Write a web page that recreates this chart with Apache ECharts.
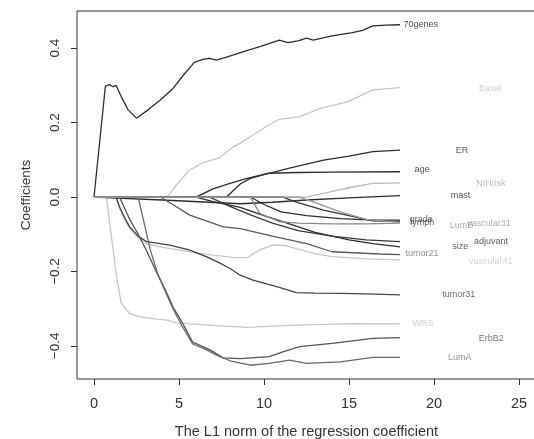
<!DOCTYPE html>
<html>
<head>
<meta charset="utf-8">
<script src="https://cdn.jsdelivr.net/npm/echarts@6/dist/echarts.min.js"></script>
<style>html,body{margin:0;padding:0;background:#fff;}#c{width:534px;height:439px;}</style>
</head>
<body>
<div id="c"></div>
<script>
// ---- data: coefficient paths ([L1 norm, coefficient]) ----
const p70genes = [[0,0],[0.67,0.298],[0.9,0.302],[1.1,0.297],[1.3,0.3],[1.6,0.27],[2.0,0.235],[2.5,0.212],[3.2,0.235],[3.9,0.261],[4.65,0.292],[5.3,0.33],[5.9,0.362],[6.4,0.37],[6.8,0.373],[7.2,0.368],[7.8,0.376],[8.8,0.391],[9.8,0.405],[10.9,0.422],[11.4,0.415],[12.0,0.42],[12.5,0.427],[12.9,0.422],[14.0,0.433],[15.2,0.442],[15.8,0.448],[16.4,0.46],[17.2,0.462],[18,0.463]];
const pBasal = [[0,0],[4.3,0],[4.9,0.035],[5.6,0.072],[6.4,0.092],[7.4,0.106],[8.2,0.135],[8.6,0.145],[9.4,0.168],[10.1,0.189],[10.9,0.209],[12.1,0.216],[13.3,0.238],[14.9,0.256],[16.4,0.288],[18,0.294]];
const pER = [[0,0],[7.8,0],[8.6,0.035],[9.2,0.05],[10,0.06],[11.5,0.078],[13.5,0.099],[15,0.11],[16.4,0.122],[18,0.126]];
const pAge = [[0,0],[6.0,0],[7.0,0.022],[8.0,0.037],[9.0,0.05],[10.3,0.064],[12,0.066],[14,0.067],[18,0.068]];
const pNIHrisk = [[0,0],[12.5,0],[13.5,0.01],[15,0.025],[16.4,0.037],[18,0.038]];
const pMast = [[0,0],[4,-0.008],[8.6,-0.018],[10.5,-0.014],[12.5,-0.008],[15,-0.002],[18,0.004]];
const pGrade = [[0,0],[9.2,0],[10,-0.02],[11,-0.04],[12.5,-0.05],[14.5,-0.058],[16.4,-0.062],[18,-0.062]];
const pLymph = [[0,0],[11.1,0],[12,-0.015],[13.5,-0.035],[15,-0.05],[16.4,-0.064],[18,-0.066]];
const pLumB = [[0,0],[9.2,0],[9.75,-0.044],[10.9,-0.066],[12,-0.07],[14,-0.072],[16,-0.072],[18,-0.07]];
const pVascular31 = [[0,0],[12.1,0],[13,-0.015],[14.5,-0.04],[16,-0.06],[18,-0.068]];
const pSize = [[0,0],[6.0,0],[7,-0.012],[8.6,-0.028],[10,-0.05],[11.1,-0.066],[13,-0.095],[15,-0.115],[16.4,-0.125],[18,-0.134]];
const pAdjuvant = [[0,0],[6.8,0],[8,-0.025],[9.2,-0.048],[10.5,-0.07],[12,-0.09],[14,-0.105],[16,-0.115],[18,-0.12]];
const pTumor21 = [[0,0],[3.9,0],[4.85,-0.026],[5.6,-0.048],[7.6,-0.08],[8.6,-0.085],[10.5,-0.105],[12.5,-0.125],[14,-0.147],[16.8,-0.153],[18,-0.155]];
const pVascular41 = [[0,0],[1.3,0],[1.5,-0.03],[1.8,-0.06],[2.1,-0.085],[2.6,-0.11],[3.1,-0.125],[4,-0.135],[5,-0.142],[6,-0.15],[7,-0.156],[8.2,-0.162],[9.0,-0.163],[9.75,-0.142],[10.5,-0.129],[11.2,-0.13],[12,-0.14],[13,-0.152],[14,-0.16],[16,-0.166],[18,-0.169]];
const pTumor31 = [[0,0],[1.3,0],[1.5,-0.026],[1.8,-0.055],[2.1,-0.08],[2.6,-0.105],[3.1,-0.12],[3.7,-0.124],[4.45,-0.129],[5.6,-0.142],[6.6,-0.16],[7.3,-0.175],[8,-0.192],[8.6,-0.21],[9.35,-0.223],[10.1,-0.233],[10.9,-0.243],[11.9,-0.257],[13,-0.258],[14.5,-0.259],[16,-0.26],[18,-0.263]];
const pWRS = [[0,0],[0.73,0],[0.95,-0.08],[1.15,-0.15],[1.35,-0.22],[1.6,-0.285],[2.1,-0.313],[2.7,-0.322],[3.5,-0.327],[4.3,-0.331],[4.85,-0.338],[5.6,-0.341],[7,-0.345],[9,-0.35],[10.5,-0.347],[12,-0.344],[13.5,-0.342],[15,-0.34],[18,-0.341]];
const pErbB2 = [[0,0],[1.5,0],[1.7,-0.02],[2.1,-0.06],[2.6,-0.1],[3.1,-0.145],[3.6,-0.195],[4.2,-0.25],[4.7,-0.3],[5.2,-0.338],[5.8,-0.39],[6.8,-0.41],[7.6,-0.432],[8.6,-0.434],[10.3,-0.429],[11.2,-0.415],[12.1,-0.402],[14,-0.393],[16.4,-0.38],[18,-0.378]];
const pLumA = [[0,0],[2.6,0],[2.9,-0.06],[3.3,-0.14],[3.7,-0.2],[4.2,-0.255],[4.7,-0.305],[5.1,-0.34],[5.8,-0.395],[6.6,-0.41],[7.2,-0.425],[8,-0.44],[9.2,-0.452],[10.3,-0.447],[11.5,-0.438],[12.5,-0.447],[14.5,-0.443],[16.4,-0.431],[18,-0.431]];

// ---- label texts and their anchor positions (data coordinates) ----
const labelNames = ['70genes','Basal','ER','age','NIHrisk','mast','grade','lymph','LumB','vascular31','adjuvant','size','tumor21','vascular41','tumor31','WRS','ErbB2','LumA'];
const labelX = [18.2,22.65,21.28,18.86,22.49,20.98,18.57,18.6,20.92,21.95,22.35,21.08,18.33,22.06,20.49,18.73,22.63,20.82];
const labelY = [0.463,0.293,0.124,0.073,0.037,0.003,-0.061,-0.068,-0.077,-0.071,-0.12,-0.134,-0.153,-0.174,-0.263,-0.341,-0.38,-0.431];

// ---- tick values ----
const xTicks = [0,5,10,15,20,25];
const yTicks = [-0.4,-0.2,0.0,0.2,0.4];

// styles
const GRAY_DARK = '#2e2e2e', GRAY_MID = '#5a5a5a', GRAY_MED = '#8a8a8a', GRAY_LIGHT = '#c6c6c6';
const paths = [
  [pWRS, GRAY_LIGHT], [pBasal, GRAY_LIGHT], [pNIHrisk, '#b8b8b8'], [pVascular41, GRAY_LIGHT],
  [p70genes, GRAY_DARK], [pER, GRAY_DARK], [pAge, GRAY_DARK], [pMast, GRAY_DARK],
  [pGrade, GRAY_DARK], [pLymph, '#3a3a3a'], [pSize, GRAY_DARK], [pAdjuvant, '#3a3a3a'],
  [pTumor21, GRAY_MID], [pTumor31, '#444'], [pErbB2, '#555'], [pLumA, '#6a6a6a'],
  [pLumB, GRAY_MED], [pVascular31, '#999']
];
const labelColors = ['#222','#c4c4c4','#333','#222','#aaa','#222','#333','#333','#999','#999','#333','#333','#777','#c8c8c8','#444','#c4c4c4','#555','#777'];

const FONT = 'Liberation Sans, Arial, Helvetica, sans-serif';
const series = paths.map(([d, c], i) => ({
  type: 'line', data: d, showSymbol: false, symbol: 'none', z: 2 + i * 0.01,
  lineStyle: { color: c, width: 1.3 }, silent: true, animation: false
}));
series.push({
  type: 'scatter', symbolSize: 0, silent: true, animation: false, z: 5,
  data: labelNames.map((n, i) => ({ name: n, value: [labelX[i], labelY[i]],
    label: { color: labelColors[i] } })),
  label: { show: true, position: 'right', distance: 0, formatter: '{b}', fontSize: 9, fontFamily: FONT }
});

const chart = echarts.init(document.getElementById('c'), null, { renderer: 'canvas' });
chart.setOption({
  backgroundColor: '#fff',
  animation: false,
  grid: { left: 77, top: 11, width: 459, height: 368, show: true, borderColor: '#333', borderWidth: 1,
    backgroundColor: 'transparent', containLabel: false, outerBoundsMode: 'none' },
  xAxis: {
    type: 'value', min: -1, max: 26,
    axisLine: { show: false, onZero: false },
    splitLine: { show: false },
    axisTick: { show: true, inside: false, length: 6, customValues: xTicks, lineStyle: { color: '#333' } },
    axisLabel: { customValues: xTicks, fontSize: 14.5, color: '#333', margin: 17, fontFamily: FONT },
    name: 'The L1 norm of the regression coefficient', nameLocation: 'middle', nameGap: 45,
    nameTextStyle: { fontSize: 14.5, color: '#333', fontFamily: FONT }
  },
  yAxis: {
    type: 'value', min: -0.489, max: 0.5,
    axisLine: { show: false, onZero: false },
    splitLine: { show: false },
    axisTick: { show: true, inside: false, length: 6, customValues: yTicks, lineStyle: { color: '#333' } },
    axisLabel: { customValues: yTicks, rotate: 90, fontSize: 13.5, color: '#333', margin: 15, fontFamily: FONT,
      formatter: v => (v < 0 ? '\u2212' : '') + Math.abs(v).toFixed(1) },
    name: 'Coefficients', nameLocation: 'middle', nameRotate: 90, nameGap: 44,
    nameTextStyle: { fontSize: 13.5, color: '#333', fontFamily: FONT }
  },
  series: series
});
</script>
</body>
</html>
